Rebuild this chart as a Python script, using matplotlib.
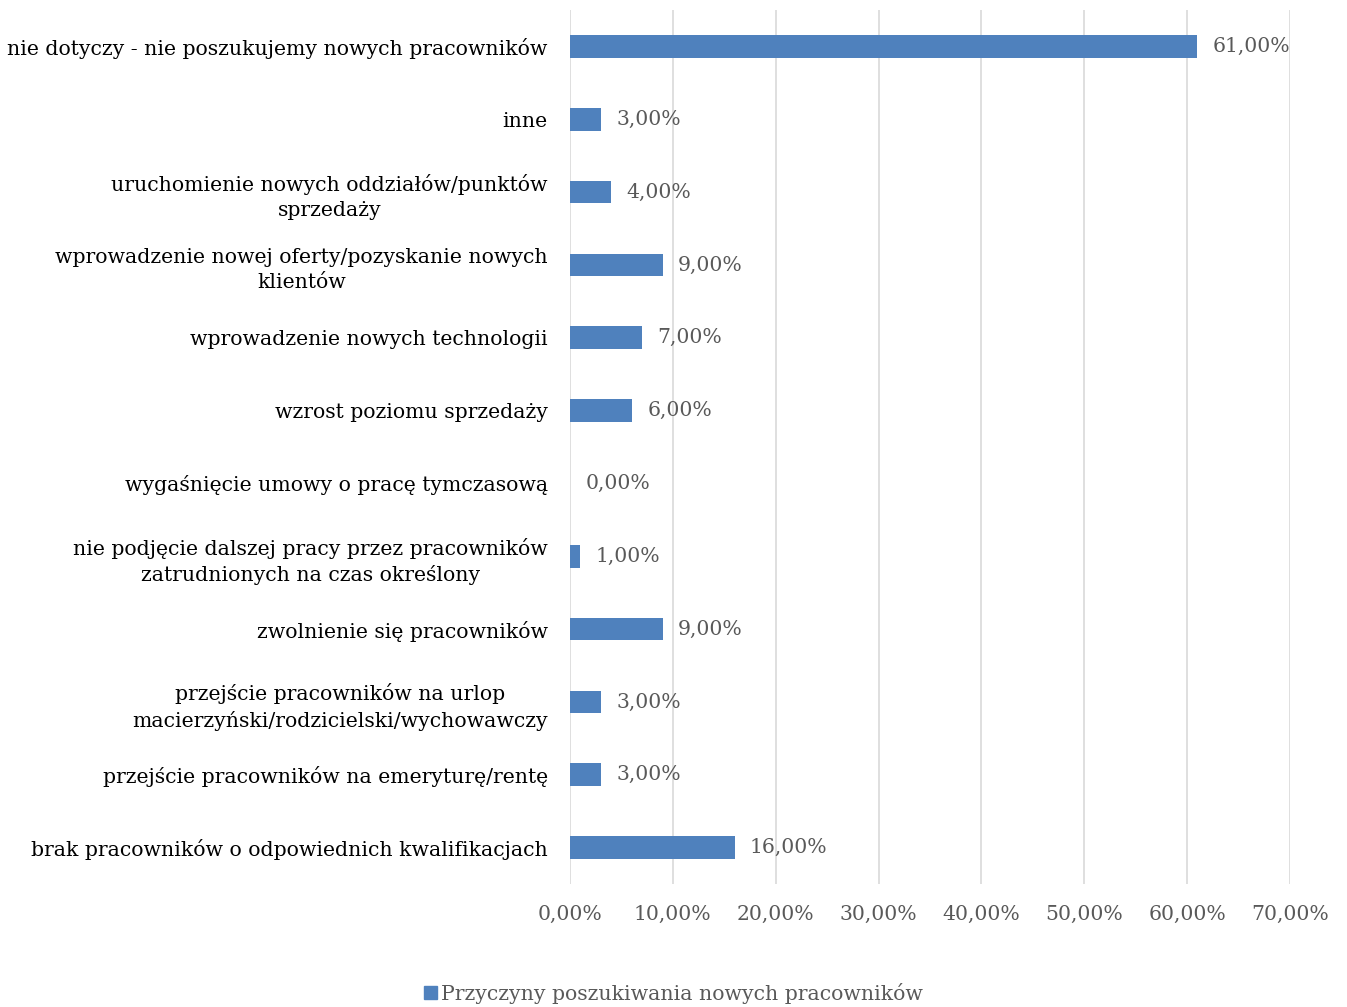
import matplotlib.pyplot as plt
from matplotlib.patches import Patch

categories = [
    'brak pracowników o odpowiednich kwalifikacjach',
    'przejście pracowników na emeryturę/rentę',
    'przejście pracowników na urlop\nmacierzyński/rodzicielski/wychowawczy',
    'zwolnienie się pracowników',
    'nie podjęcie dalszej pracy przez pracowników\nzatrudnionych na czas określony',
    'wygaśnięcie umowy o pracę tymczasową',
    'wzrost poziomu sprzedaży',
    'wprowadzenie nowych technologii',
    'wprowadzenie nowej oferty/pozyskanie nowych\nklientów',
    'uruchomienie nowych oddziałów/punktów\nsprzedaży',
    'inne',
    'nie dotyczy - nie poszukujemy nowych pracowników',
]
values = [16, 3, 3, 9, 1, 0, 6, 7, 9, 4, 3, 61]
xticks = [0, 10, 20, 30, 40, 50, 60, 70]
series_name = 'Przyczyny poszukiwania nowych pracowników'

plt.rcParams['font.family'] = ['DejaVu Serif']
color = '#4f81bd'
grey = '#595959'
fs = 14.7

fig = plt.figure(figsize=(13.47, 10.07), dpi=100)
ax = fig.add_axes([570 / 1347, 1 - 884 / 1007, 720 / 1347, 874 / 1007])

y = range(len(categories))
ax.barh(y, values, height=0.31, color=color, zorder=3)
for i, v in zip(y, values):
    ax.text(v + 1.5, i, f'{v:.2f}%'.replace('.', ','), va='center', ha='left',
            fontsize=fs, color=grey)

ax.set_xlim(0, 70)
ax.set_ylim(-0.5, len(categories) - 0.5)
ax.set_xticks(xticks)
ax.set_xticklabels([f'{t:.2f}%'.replace('.', ',') for t in xticks], fontsize=fs, color=grey)
ax.set_yticks(list(y))
ax.set_yticklabels(categories, fontsize=fs, color='black', linespacing=1.4)
for lab in ax.get_yticklabels():
    lab.set_multialignment('center')
ax.tick_params(axis='both', length=0)
ax.tick_params(axis='x', pad=15)
ax.tick_params(axis='y', pad=16)
ax.grid(axis='x', color='#d9d9d9', linewidth=1.2, zorder=0)
for s in ax.spines.values():
    s.set_visible(False)

fig.legend(handles=[Patch(color=color)], labels=[series_name], loc='lower center',
           bbox_to_anchor=(0.5, -0.015), frameon=False, fontsize=fs,
           handlelength=0.6, handleheight=0.6, handletextpad=0.2, labelcolor=grey)

plt.savefig('out.png', dpi=100)
